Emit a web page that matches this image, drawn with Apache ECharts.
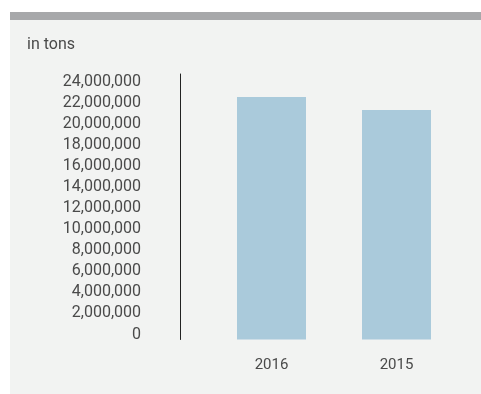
<!DOCTYPE html>
<html>
<head>
<meta charset="utf-8">
<script src="https://cdn.jsdelivr.net/npm/echarts@6/dist/echarts.min.js"></script>
<style>
html,body{margin:0;padding:0;background:#ffffff;}
#chart{width:481px;height:394px;}
</style>
</head>
<body>
<div id="chart"></div>
<script>
const categories = ['2016', '2015'];
const tonnage = [23060000, 21830000];
const unitLabel = 'in tons';

const chart = echarts.init(document.getElementById('chart'), null, {renderer: 'canvas'});
const fontFamily = 'Roboto, "DejaVu Sans Condensed", sans-serif';
const textColor = '#4a4a4a';

chart.setOption({
  animation: false,
  backgroundColor: '#ffffff',
  graphic: [
    {type: 'rect', z: -10, silent: true, shape: {x: 10, y: 12, width: 471, height: 382}, style: {fill: '#f2f3f2'}},
    {type: 'rect', z: -9, silent: true, shape: {x: 10, y: 12, width: 471, height: 8}, style: {fill: '#a7a8aa'}}
  ],
  title: {
    text: unitLabel,
    left: 27,
    top: 37,
    padding: 0,
    textStyle: {fontFamily: fontFamily, fontSize: 16, fontWeight: 'normal', color: textColor}
  },
  grid: {left: 209, top: 74, width: 250, height: 265.5, containLabel: false},
  xAxis: {
    type: 'category',
    data: categories,
    axisLine: {show: false},
    axisTick: {show: false},
    axisLabel: {margin: 18, fontFamily: fontFamily, fontSize: 15, color: textColor}
  },
  yAxis: {
    type: 'value',
    min: 0,
    max: 25250000,
    interval: 2000000,
    offset: 29,
    splitLine: {show: false},
    axisTick: {show: false},
    axisLine: {show: true, lineStyle: {color: '#222222', width: 1}},
    axisLabel: {
      margin: 39,
      fontFamily: fontFamily,
      fontSize: 16,
      color: textColor,
      verticalAlign: 'bottom',
      lineHeight: 10,
      formatter: function (v) {
        if (v % 2000000 !== 0) return '';
        return v.toLocaleString('en-US');
      }
    }
  },
  series: [{
    type: 'bar',
    data: tonnage,
    barWidth: 69,
    itemStyle: {color: '#aacadb'}
  }]
});
</script>
</body>
</html>
